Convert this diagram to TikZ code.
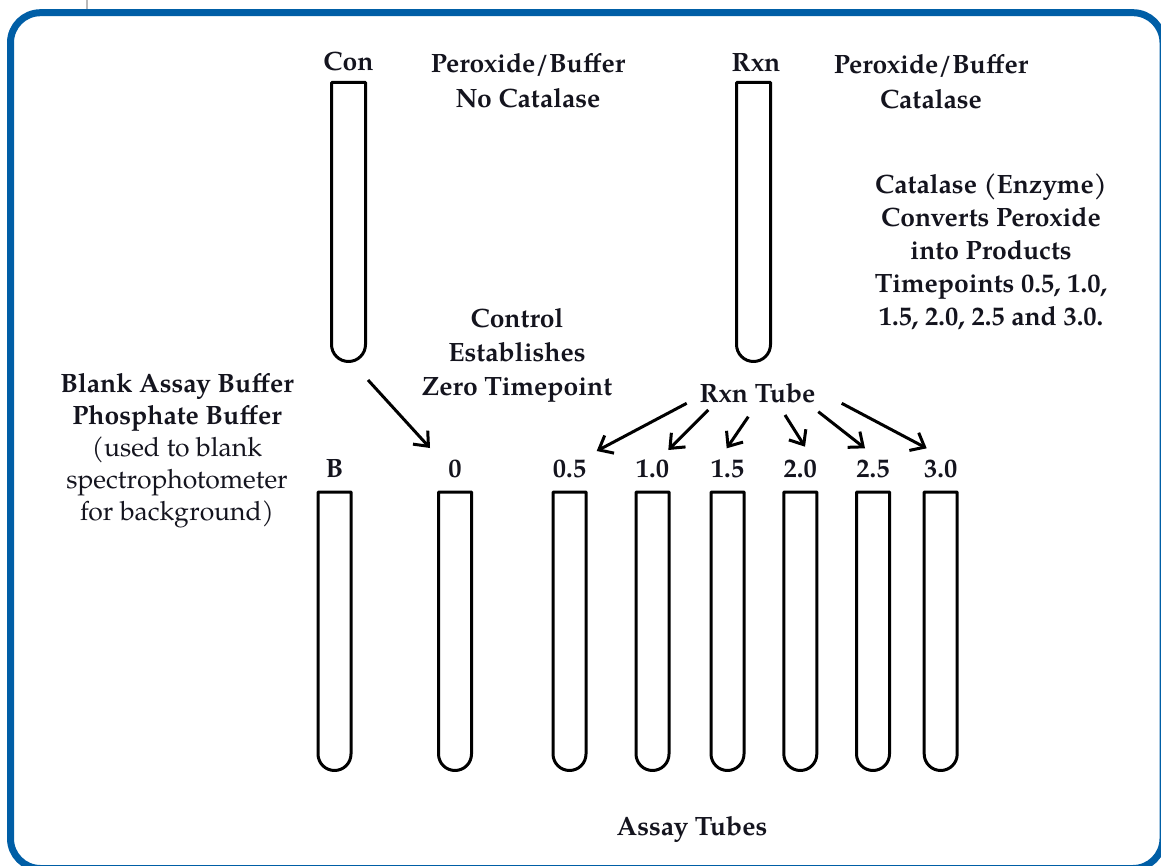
\documentclass[tikz,border=0pt]{standalone}
\usepackage{fontspec}
\setmainfont{TeX Gyre Pagella}
\usetikzlibrary{arrows.meta}
\definecolor{frameblue}{RGB}{0,94,166}
\definecolor{inkc}{RGB}{20,20,30}
\tikzset{
  tubeline/.style={draw=black, line width=3pt, line join=round},
  lbl/.style={inner sep=0pt, anchor=base, font=\fontsize{26.5}{33}\selectfont\bfseries, text=inkc, align=center},
  arr/.style={line width=3pt, -{Straight Barb[length=12pt,width=20pt]}},
}
\newcommand\drawtube[4]{% cx, halfwidth, top, bottom
  \draw[tubeline] ({#1-#2},{-#3}) -- ({#1+#2},{-#3}) -- ({#1+#2},{-#4+#2}) arc[start angle=0,end angle=-180,radius=#2] -- cycle;}
\begin{document}
\begin{tikzpicture}[x=1pt,y=1pt]
\useasboundingbox (0,0) rectangle (1161,-866);
\clip (0,0) rectangle (1161,-866);
% frame
\draw[gray!55, line width=1.5pt] (87,0) -- (87,-10);
\draw[frameblue, line width=7pt, rounded corners=30pt] (10.5,-12.7) rectangle (1163,-868.5);
% upper tubes
\drawtube{348.5}{17}{82.5}{361.5}
\drawtube{753.5}{17}{82.5}{361.5}
% lower tubes
\foreach \c in {334.5,455,569.5,652.5,727.5,800.3,873,940.7}{\drawtube{\c}{16.5}{492}{770.5}}
% labels
\node[lbl] (con) at (348.5,-71) {Con};
\node[lbl] (rxn) at (756,-72) {Rxn};
\node[lbl, anchor=north, font=\fontsize{26.5}{35}\selectfont\bfseries] (px1) at (528,-53) {Peroxide/Buffer\\No Catalase};
\node[lbl, anchor=north, font=\fontsize{26.5}{35}\selectfont\bfseries] (px2) at (931,-54) {Peroxide/Buffer\\Catalase};
\node[lbl, anchor=north] (cat) at (991,-173.5) {Catalase (Enzyme)\\Converts Peroxide\\into Products\\Timepoints 0.5, 1.0,\\1.5, 2.0, 2.5 and 3.0.};
\node[lbl, anchor=north, font=\fontsize{26.5}{34}\selectfont\bfseries] (ctrl) at (517,-308.5) {Control\\Establishes\\Zero Timepoint};
\node[lbl, anchor=north, font=\fontsize{26.5}{32}\selectfont\bfseries] (blank) at (177,-373) {Blank Assay Buffer\\Phosphate Buffer\\\mdseries(used to blank\\\mdseries spectrophotometer\\\mdseries for background)};
\node[lbl] (rxntube) at (757.5,-402) {Rxn Tube};
\node[lbl] (assay) at (692,-835) {Assay Tubes};
\node[lbl] (tB) at (334.5,-477) {B};
\node[lbl] (t0) at (455,-477) {0};
\node[lbl] (t05) at (569.5,-477) {0.5};
\node[lbl] (t10) at (652.5,-477) {1.0};
\node[lbl] (t15) at (727.5,-477) {1.5};
\node[lbl] (t20) at (800.3,-477) {2.0};
\node[lbl] (t25) at (873,-477) {2.5};
\node[lbl] (t30) at (940.7,-477) {3.0};
% arrow end points
\coordinate (cs) at (368,-380);   \coordinate (ce) at (430,-448);
\coordinate (s1) at (686.7,-403.3); \coordinate (e1) at (596.7,-451);
\coordinate (s2) at (708.3,-410);   \coordinate (e2) at (668.3,-450);
\coordinate (s3) at (748.3,-416.7); \coordinate (e3) at (726.7,-448.3);
\coordinate (s4) at (785,-415);     \coordinate (e4) at (805,-446.7);
\coordinate (s5) at (818.3,-411.7); \coordinate (e5) at (865,-448.3);
\coordinate (s6) at (841.7,-403.3); \coordinate (e6) at (926.7,-448.3);
\draw[arr] (cs) -- (ce);
\draw[arr] (s1) -- (e1);
\draw[arr] (s2) -- (e2);
\draw[arr] (s3) -- (e3);
\draw[arr] (s4) -- (e4);
\draw[arr] (s5) -- (e5);
\draw[arr] (s6) -- (e6);
\end{tikzpicture}
\end{document}
